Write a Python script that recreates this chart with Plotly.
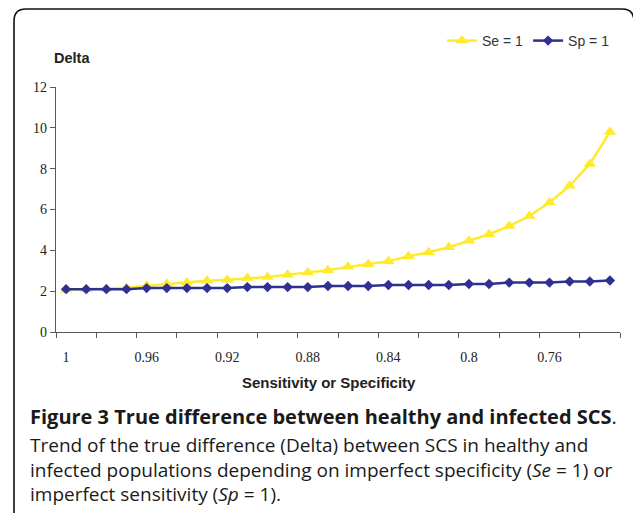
import plotly.graph_objects as go

# ---- data ----
sens_spec = [1.00, 0.99, 0.98, 0.97, 0.96, 0.95, 0.94, 0.93, 0.92, 0.91,
             0.90, 0.89, 0.88, 0.87, 0.86, 0.85, 0.84, 0.83, 0.82, 0.81,
             0.80, 0.79, 0.78, 0.77, 0.76, 0.75, 0.74, 0.73]
delta_se1 = [2.07, 2.10, 2.12, 2.17, 2.27, 2.36, 2.43, 2.51, 2.56, 2.64,
             2.69, 2.81, 2.92, 3.02, 3.19, 3.32, 3.46, 3.71, 3.91, 4.15,
             4.47, 4.79, 5.19, 5.68, 6.34, 7.16, 8.23, 9.79]
delta_sp1 = [2.10, 2.10, 2.10, 2.10, 2.15, 2.15, 2.15, 2.15, 2.15, 2.20,
             2.20, 2.20, 2.20, 2.25, 2.25, 2.25, 2.30, 2.30, 2.30, 2.30,
             2.35, 2.35, 2.42, 2.42, 2.42, 2.47, 2.47, 2.52]
x_tick_vals = [1.00, 0.96, 0.92, 0.88, 0.84, 0.80, 0.76]
x_tick_text = ["1", "0.96", "0.92", "0.88", "0.84", "0.8", "0.76"]
y_tick_vals = [0, 2, 4, 6, 8, 10, 12]

caption_lines = [
    "<b>Figure 3 True difference between healthy and infected SCS</b>.",
    "Trend of the true difference (Delta) between SCS in healthy and",
    "infected populations depending on imperfect specificity (<i>Se</i> = 1) or",
    "imperfect sensitivity (<i>Sp</i> = 1).",
]

# ---- geometry helpers (pixel -> paper) ----
W, H = 633, 513
ML, MR, MT, MB = 56, 13, 87, 181
PW, PH = W - ML - MR, H - MT - MB


def px(x):
    return (x - ML) / PW


def py(y):
    return (H - MB - y) / PH


step = sens_spec[0] - sens_spec[1]
x_lo = sens_spec[0] + step / 2
x_hi = sens_spec[-1] - step / 2
boundary_ticks = [sens_spec[0] + step / 2 - 2 * step * k for k in range(len(sens_spec) // 2 + 1)]

YELLOW = "#FFEA2E"
NAVY = "#2E3192"
AXIS = "#5a5a5a"

fig = go.Figure()
fig.add_trace(go.Scatter(
    x=sens_spec, y=delta_se1, name="Se = 1", mode="lines+markers",
    line=dict(color=YELLOW, width=2.5),
    marker=dict(symbol="triangle-up", size=11, color=YELLOW),
    cliponaxis=False,
))
fig.add_trace(go.Scatter(
    x=sens_spec, y=delta_sp1, name="Sp = 1", mode="lines+markers",
    line=dict(color=NAVY, width=2.5),
    marker=dict(symbol="diamond", size=8, color=NAVY),
    cliponaxis=False,
))

fig.update_layout(
    width=W, height=H,
    margin=dict(l=ML, r=MR, t=MT, b=MB),
    paper_bgcolor="white", plot_bgcolor="white",
    showlegend=True,
    legend=dict(
        orientation="h", x=px(615), xanchor="right", y=py(41), yanchor="middle",
        font=dict(family="Liberation Sans, Arial", size=14, color="#333333"),
        bgcolor="rgba(0,0,0,0)", itemwidth=30, tracegroupgap=0,
    ),
    xaxis=dict(
        range=[x_lo, x_hi], tickmode="array", tickvals=x_tick_vals,
        ticktext=x_tick_text, ticks="", ticklabelstandoff=12,
        tickfont=dict(family="Liberation Serif, Times New Roman", size=14, color="#222222"),
        minor=dict(tickmode="array", tickvals=boundary_ticks, ticks="outside",
                   ticklen=5, tickcolor=AXIS, showgrid=False),
        showline=True, linecolor=AXIS, linewidth=1.3,
        showgrid=False, zeroline=False,
    ),
    yaxis=dict(
        range=[0, 12], tickmode="array", tickvals=y_tick_vals,
        ticks="outside", ticklen=5, tickcolor=AXIS,
        showline=True, linecolor=AXIS, linewidth=1.3,
        showgrid=False, zeroline=False,
        tickfont=dict(family="Liberation Serif, Times New Roman", size=14, color="#222222"),
    ),
)

# axis titles
fig.add_annotation(
    text="<b>Delta</b>", xref="paper", yref="paper", x=px(52), y=py(58),
    xanchor="left", yanchor="middle", showarrow=False,
    font=dict(family="Liberation Sans, Arial", size=14.5, color="#222222"),
)
fig.add_annotation(
    text="<b>Sensitivity or Specificity</b>", xref="paper", yref="paper",
    x=px(328.5), y=py(382.5), xanchor="center", yanchor="middle", showarrow=False,
    font=dict(family="Liberation Sans, Arial", size=15, color="#222222"),
)

# caption
cap_y = [416, 445, 470, 494]
cap_size = [20, 19, 19, 19]
for line, yy, sz in zip(caption_lines, cap_y, cap_size):
    fig.add_annotation(
        text=line, xref="paper", yref="paper", x=px(28), y=py(yy),
        xanchor="left", yanchor="middle", showarrow=False, align="left",
        font=dict(family="Open Sans", size=sz, color="#1a1a1a"),
    )

# rounded frame
L, T, R, B = px(14), py(9), px(634), py(540)
rx, ry = 12 / PW, 12 / PH
path = (f"M {L},{B} L {L},{T - ry} Q {L},{T} {L + rx},{T} "
        f"L {R - rx},{T} Q {R},{T} {R},{T - ry} L {R},{B}")
fig.add_shape(type="path", path=path, xref="paper", yref="paper",
              line=dict(color="#111111", width=1.6))

fig.write_html("out.html", config={"displayModeBar": False},
               post_script="document.body.style.margin='0';document.body.style.padding='0';")
